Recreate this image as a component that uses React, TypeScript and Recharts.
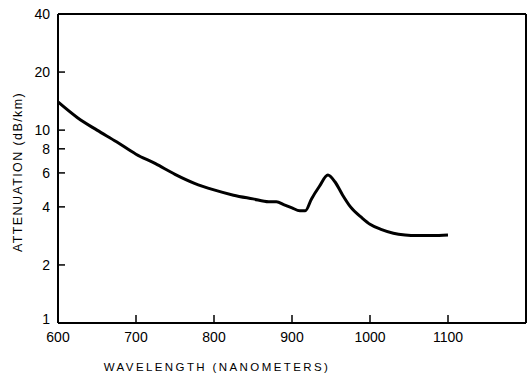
import React from 'react';
import { LineChart, Line, XAxis, YAxis, ReferenceLine } from 'recharts';

const wavelength = [600, 625, 650, 675, 700, 725, 750, 775, 800, 825, 850, 870, 880, 890, 900, 910, 917, 925, 935, 946, 955, 965, 975, 990, 1000, 1015, 1030, 1045, 1060, 1080, 1100];
const attenuation = [14, 11.6, 10.0, 8.7, 7.5, 6.7, 5.9, 5.3, 4.9, 4.6, 4.4, 4.25, 4.25, 4.1, 3.95, 3.82, 3.82, 4.4, 5.1, 5.85, 5.4, 4.6, 4.0, 3.5, 3.25, 3.05, 2.92, 2.86, 2.84, 2.84, 2.86];

const xTicks = [600, 700, 800, 900, 1000, 1100];
const yTicks = [1, 2, 4, 6, 8, 10, 20, 40];

const data = wavelength.map((w, i) => ({ w, a: attenuation[i] }));

const FONT = '"Liberation Sans", Arial, sans-serif';
const LEFT = 58;
const BOTTOM = 323;

const YTick = (props: any) => {
  const { y, payload } = props;
  return (
    <g>
      {payload.value !== 40 && payload.value !== 1 && (
        <line x1={LEFT} x2={LEFT + 7} y1={y} y2={y} stroke="#000" strokeWidth={1.5} />
      )}
      <text x={LEFT - 8} y={y} dy={payload.value === 1 ? 1 : 5} textAnchor="end" fontFamily={FONT} fontSize={14} fill="#000">
        {payload.value}
      </text>
    </g>
  );
};

const XTick = (props: any) => {
  const { x, payload } = props;
  return (
    <g>
      {payload.value !== 600 && (
        <line x1={x} x2={x} y1={BOTTOM} y2={BOTTOM - 8} stroke="#000" strokeWidth={1.5} />
      )}
      <text x={x} y={BOTTOM + 19} textAnchor="middle" fontFamily={FONT} fontSize={14} fill="#000">
        {payload.value}
      </text>
    </g>
  );
};

const YLabel = () => (
  <text
    x={18}
    y={172}
    transform="rotate(-90, 18, 172)"
    textAnchor="middle"
    dominantBaseline="central"
    fontFamily={FONT}
    fontSize={12.5}
    letterSpacing={1.4}
    fill="#000"
  >
    ATTENUATION (dB/km)
  </text>
);

const XLabel = () => (
  <text
    x={217}
    y={371}
    textAnchor="middle"
    fontFamily={FONT}
    fontSize={11.5}
    letterSpacing={2.4}
    fill="#000"
  >
    WAVELENGTH (NANOMETERS)
  </text>
);

export default function App() {
  return (
    <div style={{ position: 'absolute', left: 0, top: 0, background: '#fff' }}>
      <LineChart width={528} height={374} data={data} margin={{ top: 14, right: 2, bottom: 21, left: 0 }}>
        <XAxis
          dataKey="w"
          type="number"
          domain={[600, 1200]}
          ticks={xTicks}
          tick={<XTick />}
          tickLine={false}
          axisLine={{ stroke: '#000', strokeWidth: 2 }}
          height={30}
          interval={0}
          label={{ content: () => <XLabel /> }}
        />
        <YAxis
          dataKey="a"
          scale="log"
          domain={[1, 40]}
          ticks={yTicks}
          tick={<YTick />}
          tickLine={false}
          axisLine={{ stroke: '#000', strokeWidth: 2 }}
          width={58}
          interval={0}
          allowDataOverflow
          label={{ content: () => <YLabel /> }}
        />
        <ReferenceLine y={40} stroke="#000" strokeWidth={2} />
        <ReferenceLine x={1200} stroke="#000" strokeWidth={2} />
        <Line
          dataKey="a"
          type="monotone"
          stroke="#000"
          strokeWidth={3}
          dot={false}
          isAnimationActive={false}
        />
      </LineChart>
    </div>
  );
}
